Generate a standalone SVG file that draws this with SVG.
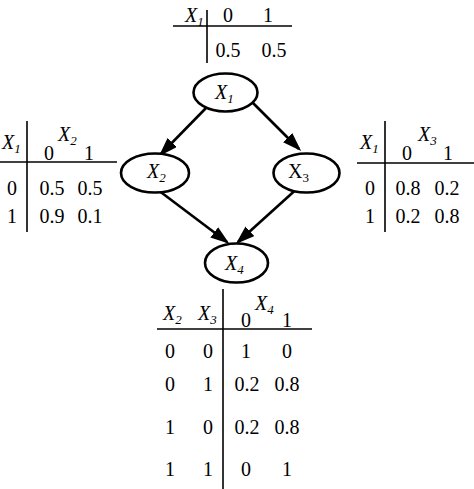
<svg xmlns="http://www.w3.org/2000/svg" width="474" height="489" viewBox="0 0 474 489">
<defs>
<style>
.ln{stroke:#000;stroke-width:1.6;fill:none}
.node ellipse{fill:#fff;stroke:#000;stroke-width:2.6}
.edge{stroke:#000;stroke-width:2.6;fill:none}
</style>
<marker id="ah" markerUnits="userSpaceOnUse" markerWidth="20" markerHeight="14" refX="16" refY="6.5" orient="auto">
<path d="M0,0 L19,6.5 L0,13 Z" fill="#000"/>
</marker>
</defs>
<rect width="474" height="489" fill="#fff"/>

<g id="cpt-x1">
<line class="ln" x1="173" y1="26" x2="292" y2="26"/>
<line class="ln" x1="207" y1="10" x2="207" y2="63"/>
<text x="185" y="22" font-family="Liberation Serif" font-size="20" font-style="italic">X<tspan font-family="Liberation Serif" font-size="13" dy="4">1</tspan></text>
<text x="228" y="22" font-family="Liberation Serif" font-size="20" text-anchor="middle">0</text>
<text x="268" y="22" font-family="Liberation Serif" font-size="20" text-anchor="middle">1</text>
<text x="228" y="57" font-family="Liberation Serif" font-size="20" text-anchor="middle">0.5</text>
<text x="274" y="57" font-family="Liberation Serif" font-size="20" text-anchor="middle">0.5</text>
</g>

<g id="connectors">
<line class="edge" x1="207" y1="107" x2="161" y2="154" marker-end="url(#ah)"/>
<line class="edge" x1="253" y1="103" x2="299" y2="149" marker-end="url(#ah)"/>
<line class="edge" x1="158" y1="190" x2="227" y2="242" marker-end="url(#ah)"/>
<line class="edge" x1="300" y1="186" x2="238" y2="242" marker-end="url(#ah)"/>
</g>

<g id="node-x1" class="node">
<ellipse cx="225.5" cy="92.5" rx="32" ry="19"/>
<text x="215" y="99" font-family="Liberation Serif" font-size="20" font-style="italic">X<tspan font-family="Liberation Serif" font-size="13" dy="4">1</tspan></text>
</g>
<g id="node-x2" class="node">
<ellipse cx="155" cy="173" rx="34" ry="19.5"/>
<text x="147" y="178" font-family="Liberation Serif" font-size="20" font-style="italic">X<tspan font-family="Liberation Serif" font-size="13" dy="4">2</tspan></text>
</g>
<g id="node-x3" class="node">
<ellipse cx="306.5" cy="173" rx="33" ry="19.5"/>
<text x="288" y="178" font-family="Liberation Serif" font-size="20">X<tspan font-family="Liberation Serif" font-size="13" dy="4">3</tspan></text>
</g>
<g id="node-x4" class="node">
<ellipse cx="236.5" cy="263" rx="31.5" ry="19.5"/>
<text x="225" y="270" font-family="Liberation Serif" font-size="20" font-style="italic">X<tspan font-family="Liberation Serif" font-size="13" dy="4">4</tspan></text>
</g>

<g id="cpt-x2">
<line class="ln" x1="27" y1="121" x2="27" y2="232"/>
<line class="ln" x1="0" y1="162" x2="117" y2="162"/>
<text x="2" y="149" font-family="Liberation Serif" font-size="20" font-style="italic">X<tspan font-family="Liberation Serif" font-size="13" dy="4">1</tspan></text>
<text x="58" y="141" font-family="Liberation Serif" font-size="20" font-style="italic">X<tspan font-family="Liberation Serif" font-size="13" dy="4">2</tspan></text>
<text x="49" y="160" font-family="Liberation Serif" font-size="20" text-anchor="middle">0</text>
<text x="89" y="160" font-family="Liberation Serif" font-size="20" text-anchor="middle">1</text>
<text x="12" y="195" font-family="Liberation Serif" font-size="20" text-anchor="middle">0</text>
<text x="52" y="195" font-family="Liberation Serif" font-size="20" text-anchor="middle">0.5</text>
<text x="90" y="195" font-family="Liberation Serif" font-size="20" text-anchor="middle">0.5</text>
<text x="12" y="223" font-family="Liberation Serif" font-size="20" text-anchor="middle">1</text>
<text x="52" y="223" font-family="Liberation Serif" font-size="20" text-anchor="middle">0.9</text>
<text x="90" y="223" font-family="Liberation Serif" font-size="20" text-anchor="middle">0.1</text>
</g>

<g id="cpt-x3">
<line class="ln" x1="385" y1="121" x2="385" y2="232"/>
<line class="ln" x1="357" y1="163" x2="474" y2="163"/>
<text x="360" y="149" font-family="Liberation Serif" font-size="20" font-style="italic">X<tspan font-family="Liberation Serif" font-size="13" dy="4">1</tspan></text>
<text x="418" y="141" font-family="Liberation Serif" font-size="20" font-style="italic">X<tspan font-family="Liberation Serif" font-size="13" dy="4">3</tspan></text>
<text x="407" y="160" font-family="Liberation Serif" font-size="20" text-anchor="middle">0</text>
<text x="448" y="160" font-family="Liberation Serif" font-size="20" text-anchor="middle">1</text>
<text x="370" y="195" font-family="Liberation Serif" font-size="20" text-anchor="middle">0</text>
<text x="408" y="195" font-family="Liberation Serif" font-size="20" text-anchor="middle">0.8</text>
<text x="447" y="195" font-family="Liberation Serif" font-size="20" text-anchor="middle">0.2</text>
<text x="370" y="223" font-family="Liberation Serif" font-size="20" text-anchor="middle">1</text>
<text x="408" y="223" font-family="Liberation Serif" font-size="20" text-anchor="middle">0.2</text>
<text x="447" y="223" font-family="Liberation Serif" font-size="20" text-anchor="middle">0.8</text>
</g>

<g id="cpt-x4">
<line class="ln" x1="223" y1="289" x2="223" y2="489"/>
<line class="ln" x1="157" y1="329" x2="312" y2="329"/>
<text x="163" y="320" font-family="Liberation Serif" font-size="20" font-style="italic">X<tspan font-family="Liberation Serif" font-size="13" dy="4">2</tspan></text>
<text x="198" y="320" font-family="Liberation Serif" font-size="20" font-style="italic">X<tspan font-family="Liberation Serif" font-size="13" dy="4">3</tspan></text>
<text x="255" y="310" font-family="Liberation Serif" font-size="20" font-style="italic">X<tspan font-family="Liberation Serif" font-size="13" dy="4">4</tspan></text>
<text x="246" y="327" font-family="Liberation Serif" font-size="20" text-anchor="middle">0</text>
<text x="287" y="327" font-family="Liberation Serif" font-size="20" text-anchor="middle">1</text>
<text x="170" y="358" font-family="Liberation Serif" font-size="20" text-anchor="middle">0</text>
<text x="208" y="358" font-family="Liberation Serif" font-size="20" text-anchor="middle">0</text>
<text x="246" y="358" font-family="Liberation Serif" font-size="20" text-anchor="middle">1</text>
<text x="287" y="358" font-family="Liberation Serif" font-size="20" text-anchor="middle">0</text>
<text x="170" y="391" font-family="Liberation Serif" font-size="20" text-anchor="middle">0</text>
<text x="208" y="391" font-family="Liberation Serif" font-size="20" text-anchor="middle">1</text>
<text x="247" y="391" font-family="Liberation Serif" font-size="20" text-anchor="middle">0.2</text>
<text x="287" y="391" font-family="Liberation Serif" font-size="20" text-anchor="middle">0.8</text>
<text x="170" y="434" font-family="Liberation Serif" font-size="20" text-anchor="middle">1</text>
<text x="208" y="434" font-family="Liberation Serif" font-size="20" text-anchor="middle">0</text>
<text x="247" y="434" font-family="Liberation Serif" font-size="20" text-anchor="middle">0.2</text>
<text x="287" y="434" font-family="Liberation Serif" font-size="20" text-anchor="middle">0.8</text>
<text x="170" y="476" font-family="Liberation Serif" font-size="20" text-anchor="middle">1</text>
<text x="208" y="476" font-family="Liberation Serif" font-size="20" text-anchor="middle">1</text>
<text x="246" y="476" font-family="Liberation Serif" font-size="20" text-anchor="middle">0</text>
<text x="287" y="476" font-family="Liberation Serif" font-size="20" text-anchor="middle">1</text>
</g>
</svg>
